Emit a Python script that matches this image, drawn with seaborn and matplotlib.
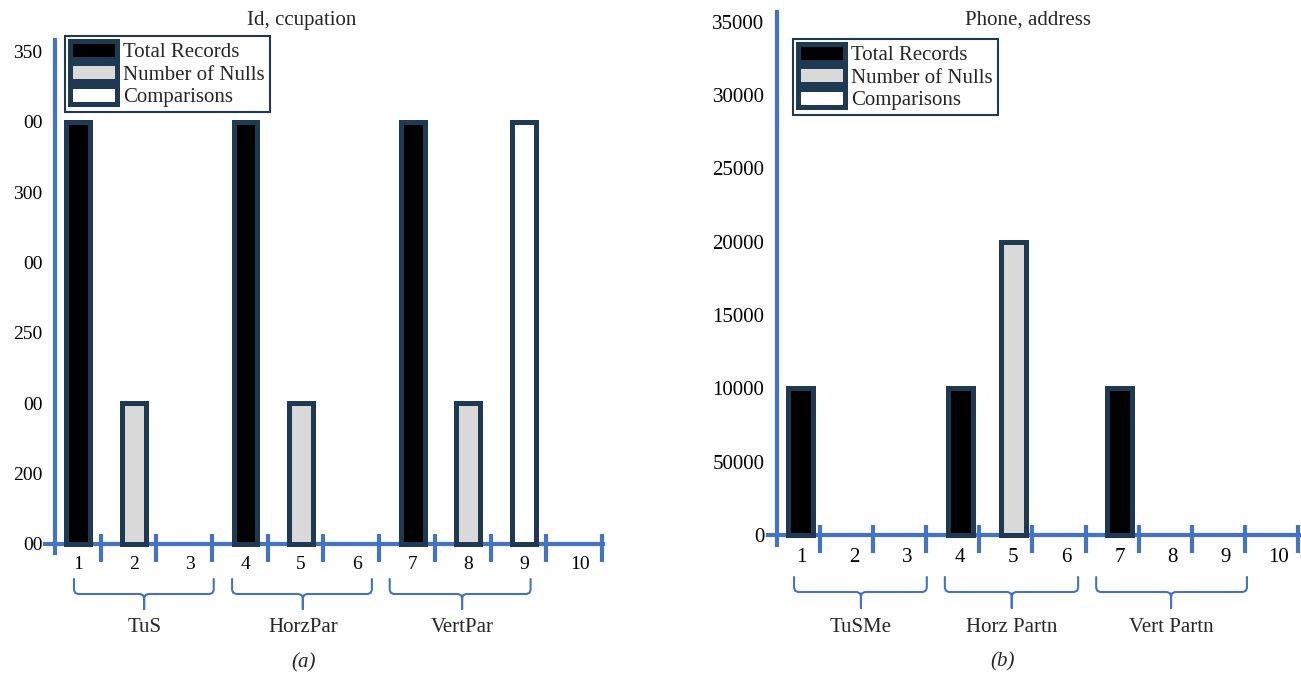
import numpy as np
import pandas as pd
import matplotlib
matplotlib.use("Agg")
import matplotlib.pyplot as plt
import matplotlib.transforms as mtransforms
from matplotlib.patches import Patch
import seaborn as sns

# ---------------- data ----------------
categories = list(range(1, 11))
series_names = ["Total Records", "Number of Nulls", "Comparisons"]

a_series = ["Total Records", "Number of Nulls", None,
            "Total Records", "Number of Nulls", None,
            "Total Records", "Number of Nulls", "Comparisons", None]
a_values = [300, 100, 0, 300, 100, 0, 300, 100, 300, 0]
a_ytick_values = [0, 50, 100, 150, 200, 250, 300, 350]
a_ytick_labels = ["00", "200", "00", "250", "00", "300", "00", "350"]
a_groups = ["TuS", "HorzPar", "VertPar"]
a_title = "Id, ccupation"
a_caption = "(a)"

b_series = ["Total Records", None, None,
            "Total Records", "Number of Nulls", None,
            "Total Records", None, None, None]
b_values = [10000, 0, 0, 10000, 20000, 0, 10000, 0, 0, 0]
b_ytick_values = [0, 5000, 10000, 15000, 20000, 25000, 30000, 35000]
b_ytick_labels = ["0", "50000", "10000", "15000", "20000", "25000", "30000", "35000"]
b_groups = ["TuSMe", "Horz Partn", "Vert Partn"]
b_title = "Phone, address"
b_caption = "(b)"

# ---------------- style ----------------
sns.set_style("white")
plt.rcParams["font.family"] = ["Liberation Serif", "DejaVu Serif"]

FIG_W, FIG_H = 1301, 673
BLUE = "#4472C4"
NAVY = "#1E3A52"
FILLS = {"Total Records": "#000000", "Number of Nulls": "#D9D9D9", "Comparisons": "#FFFFFF"}

LAYOUT_A = dict(rect=(45, 40, 603, 553), xlim=(0.40, 10.42), ylim=(-6.4, 358), yaxis_x=0.578,
                bar_width=0.43, tick_offset=0.40, tick_fs=14,
                braces=[(0.92, 3.43, 2.18), (3.76, 6.27, 5.03), (6.59, 9.12, 7.89)],
                brace_y=(579, 594, 609), group_y=627,
                legend=(65, 36), title_xy=(302, 20), caption_xy=(304, 663))
LAYOUT_B = dict(rect=(768, 12, 1299, 545), xlim=(0.379, 10.38), ylim=(-682, 35675), yaxis_x=0.548,
                bar_width=0.47, tick_offset=0.36, tick_fs=15,
                braces=[(0.87, 3.37, 2.13), (3.71, 6.22, 4.97), (6.56, 9.40, 7.97)],
                brace_y=(577, 592, 608), group_y=627,
                legend=(793, 39), title_xy=(1028, 20), caption_xy=(1003, 662))

fig = plt.figure(figsize=(FIG_W / 100, FIG_H / 100), dpi=100)


def px_rect(x0, ytop, x1, ybot):
    return [x0 / FIG_W, 1 - ybot / FIG_H, (x1 - x0) / FIG_W, (ybot - ytop) / FIG_H]


def draw_panel(series, values, ytv, ytl, groups, title, caption, L):
    ax = fig.add_axes(px_rect(*L["rect"]))
    df = pd.DataFrame({"pos": categories, "series": series, "value": values})
    df = df[df["series"].notna()]
    sns.barplot(data=df, x="pos", y="value", hue="series", hue_order=series_names,
                palette=FILLS, native_scale=True, dodge=False, width=L["bar_width"],
                edgecolor=NAVY, linewidth=3.6, errorbar=None, legend=False, ax=ax,
                zorder=3, saturation=1)
    ax.set_xlim(*L["xlim"])
    ax.set_ylim(*L["ylim"])
    ax.set_xticks(categories)
    ax.set_xticklabels([str(c) for c in categories])
    ax.set_yticks(ytv)
    ax.set_yticklabels(ytl)
    ax.set_xlabel("")
    ax.set_ylabel("")
    ax.patch.set_visible(False)
    for s in ["top", "right"]:
        ax.spines[s].set_visible(False)
    ax.spines["left"].set_position(("data", L["yaxis_x"]))
    ax.spines["bottom"].set_position(("data", 0))
    for s in ["left", "bottom"]:
        ax.spines[s].set_color(BLUE)
        ax.spines[s].set_linewidth(3)
        ax.spines[s].set_zorder(2)
    ax.tick_params(axis="x", length=0, pad=9, labelsize=L["tick_fs"], labelcolor="black")
    ax.tick_params(axis="y", length=6, width=1.5, color=BLUE, pad=3,
                   labelsize=L["tick_fs"], labelcolor="black")

    # boundary tick marks crossing the x axis
    trans = mtransforms.blended_transform_factory(ax.transData, fig.transFigure)
    y0 = ax.transData.transform((1, 0))[1] / FIG_H
    for c in categories:
        xb = c + L["tick_offset"]
        ax.plot([xb, xb], [y0 - 18 / FIG_H, y0 + 10 / FIG_H], transform=trans, color=BLUE,
                lw=3, clip_on=False, solid_capstyle="butt", zorder=4)

    # group braces
    ppu = ax.transData.transform((2, 0))[0] - ax.transData.transform((1, 0))[0]
    r = 4 / ppu
    top, hor, bot = [1 - v / FIG_H for v in L["brace_y"]]
    rv = 4 / FIG_H
    for (x0, x1, xc), name in zip(L["braces"], groups):
        xs = [x0, x0, x0 + r * 0.3, x0 + r, xc - r, xc - r * 0.3, xc, xc,
              xc, xc + r * 0.3, xc + r, x1 - r, x1 - r * 0.3, x1, x1]
        ys = [top, hor + rv, hor + rv * 0.3, hor, hor, hor - rv * 0.3, hor - rv, bot,
              hor - rv, hor - rv * 0.3, hor, hor, hor + rv * 0.3, hor + rv, top]
        ax.plot(xs, ys, transform=trans, color=BLUE, lw=1.5, clip_on=False, zorder=4)
        ax.text(xc, 1 - L["group_y"] / FIG_H, name, transform=trans, ha="center",
                va="center", fontsize=15)

    # legend
    handles = [Patch(facecolor=FILLS[n], edgecolor=NAVY, linewidth=3.6, label=n)
               for n in series_names]
    leg = ax.legend(handles=handles, loc="upper left",
                    bbox_to_anchor=(L["legend"][0] / FIG_W, 1 - L["legend"][1] / FIG_H),
                    bbox_transform=fig.transFigure, borderaxespad=0, frameon=True,
                    fancybox=False, edgecolor=NAVY, framealpha=1, fontsize=15,
                    handlelength=2.25, handleheight=0.95, handletextpad=0.3,
                    labelspacing=0.05, borderpad=0.25)
    leg.get_frame().set_linewidth(1.5)
    leg.set_zorder(6)

    fig.text(L["title_xy"][0] / FIG_W, 1 - L["title_xy"][1] / FIG_H, title,
             ha="center", va="center", fontsize=15)
    fig.text(L["caption_xy"][0] / FIG_W, 1 - L["caption_xy"][1] / FIG_H, caption,
             ha="center", va="center", fontsize=15, style="italic")
    return ax


draw_panel(a_series, a_values, a_ytick_values, a_ytick_labels, a_groups, a_title, a_caption, LAYOUT_A)
draw_panel(b_series, b_values, b_ytick_values, b_ytick_labels, b_groups, b_title, b_caption, LAYOUT_B)

fig.savefig("out.png", dpi=100)
